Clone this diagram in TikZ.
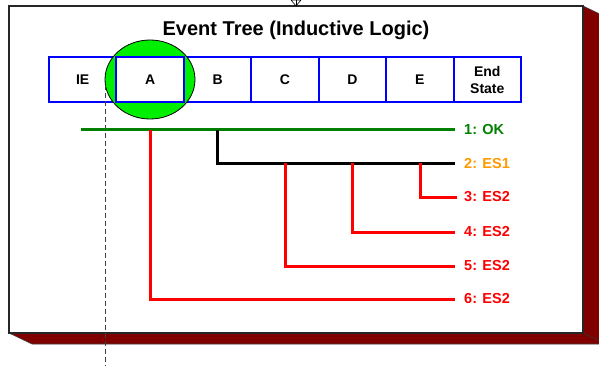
\documentclass[tikz,border=0pt]{standalone}
\usepackage{fontspec}
\setmainfont{Liberation Sans}
\usetikzlibrary{shapes.geometric}
\definecolor{shadowred}{RGB}{128,0,0}
\definecolor{okgreen}{RGB}{0,128,0}
\definecolor{esorange}{RGB}{255,153,0}
\definecolor{esred}{RGB}{255,0,0}
\definecolor{hblue}{RGB}{0,0,255}
\definecolor{bright}{RGB}{0,238,0}
\tikzset{
  cell/.style={draw=hblue, line width=2pt, fill=white, minimum width=67.4pt,
    minimum height=45pt, inner sep=0pt, font=\bfseries\fontsize{14}{17}\selectfont, align=center},
  outlabel/.style={anchor=west, inner sep=0pt, font=\bfseries\fontsize{14.5}{17}\selectfont},
  branch/.style={line width=3pt},
}
\begin{document}
\begin{tikzpicture}[x=1pt,y=-1pt]
\useasboundingbox (0,0) rectangle (599,366);
% shadow
\fill[shadowred,draw=black!75,line width=0.6pt] (583,6) -- (606,17) -- (606,344) -- (32,344) -- (9,333) -- (583,333) -- cycle;
\draw[black!80,line width=0.6pt] (583,333) -- (606,344);
% main panel
\draw[fill=white,draw=black!85,line width=1.5pt] (9,6) rectangle (583,333);
% top marker
\draw[line width=0.6pt,fill=white] (291,0) -- (301,0) -- (296,6) -- cycle;
\draw[line width=0.6pt] (296,0) -- (296,6);
% title
\node[font=\bfseries\fontsize{20}{24}\selectfont] (title) at (296,30) {Event Tree (Inductive Logic)};
% header cells
\node[cell] (ie) at (82.7,79.5) {IE};
\node[cell] (cb) at (217.6,79.5) {B};
\node[cell] (cc) at (285.0,79.5) {C};
\node[cell] (cd) at (352.4,79.5) {D};
\node[cell] (ce) at (419.9,79.5) {E};
\node[cell] (es) at (487.3,79.5) {End\\State};
% highlight circle
\node[ellipse, fill=bright, draw=black, line width=0.8pt, minimum width=90pt, minimum height=79pt, inner sep=0pt] (hl) at (150,79.5) {};
\node[cell] (ca) at (150.1,79.5) {A};
% dashed marker line
\draw[black!75,line width=0.8pt,dash pattern=on 5pt off 3pt] (105.3,85) -- (105.3,366);
% outcome labels
\node[outlabel,text=okgreen] (l1) at (464,130) {1: OK};
\node[outlabel,text=esorange] (l2) at (464,163.5) {2: ES1};
\node[outlabel,text=esred] (l3) at (464,197) {3: ES2};
\node[outlabel,text=esred] (l4) at (464,232) {4: ES2};
\node[outlabel,text=esred] (l5) at (464,266) {5: ES2};
\node[outlabel,text=esred] (l6) at (464,299) {6: ES2};
% branch points
\coordinate (s0) at (81,130);
\coordinate (bA) at (150,130);
\coordinate (bB) at (217,130);
\coordinate (bC) at (285,163.5);
\coordinate (bD) at (352,163.5);
\coordinate (bE) at (420,163.5);
% branches
\draw[branch,okgreen] (s0) -- ([xshift=-9pt]l1.west);
\draw[branch,black] (bB) |- ([xshift=-9pt]l2.west);
\draw[branch,esred] (bE) |- ([xshift=-7pt]l3.west);
\draw[branch,esred] (bD) |- ([xshift=-9pt]l4.west);
\draw[branch,esred] (bC) |- ([xshift=-9pt]l5.west);
\draw[branch,esred] (bA) |- ([xshift=-9pt]l6.west);
% dashed line over the shadow
\draw[black!75,line width=0.8pt,dash pattern=on 5pt off 3pt] (105.3,333) -- (105.3,366);
\end{tikzpicture}
\end{document}
